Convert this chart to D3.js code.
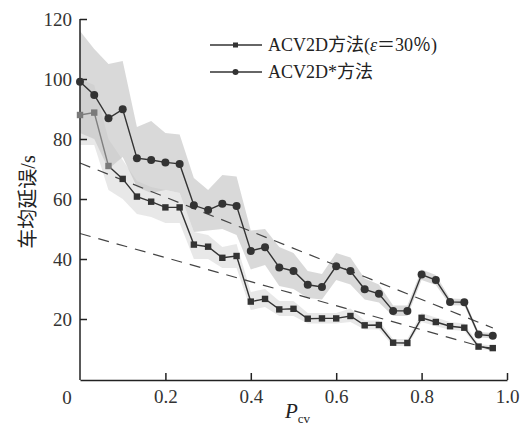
<!DOCTYPE html>
<html lang="zh">
<head>
  <meta charset="UTF-8">
  <title>车均延误</title>
  <script src="https://d3js.org/d3.v7.min.js"></script>
  <style>
    body { margin: 0; background: #fff; }
    text { font-family: "Liberation Serif", "Noto Sans CJK SC", serif; fill: #222; }
    .axis path, .axis line { stroke: #222; stroke-width: 1.5; }
    .axis text { font-size: 19px; font-family: "Liberation Serif", serif; fill: #333; }
  </style>
</head>
<body>
  <script>
    // P_cv 取值 0, 1/30, ..., 29/30
    const pcv = d3.range(30).map(k => k / 30);

    // ACV2D* 方法
    const starMean  = [99.1, 94.7, 86.9, 89.9, 73.6, 73.0, 72.2, 71.7, 57.9, 56.3,
                       58.4, 57.7, 42.7, 43.9, 37.2, 36.0, 31.4, 30.7, 37.6, 36.0,
                       29.9, 28.4, 22.7, 22.7, 34.8, 33.0, 25.7, 25.6, 14.8, 14.4];
    const starUpper = [116, 110, 105, 106, 84, 86, 82, 81.5, 67, 63,
                       68, 67.5, 49.5, 50, 44, 42, 36, 35, 42, 40.5,
                       33.5, 31.5, 24.5, 24.5, 36.5, 34.7, 26.8, 26.7, 15.7, 15.3];
    const starLower = [82, 80, 70, 74, 64, 62, 63, 62, 49, 49.5,
                       50, 48, 36.5, 38, 31, 30, 27, 26.5, 33, 31.5,
                       26.5, 25.5, 21, 21, 33, 31.3, 24.6, 24.5, 13.9, 13.5];

    // ACV2D 方法 (ε=30%)
    const epsMean  = [88.0, 88.8, 71.0, 66.7, 60.8, 59.1, 57.2, 57.2, 44.8, 44.1,
                      40.4, 41.0, 25.8, 26.7, 23.2, 23.4, 20.1, 20.2, 20.2, 21.0,
                      17.9, 18.0, 12.1, 12.0, 20.4, 19.0, 17.6, 17.1, 10.8, 10.3];
    const epsUpper = [100, 98, 80, 73, 66, 64, 63, 62, 49, 48,
                      44, 45, 29, 30, 26, 26, 22, 22, 22, 23.5,
                      19.5, 19.5, 13.3, 13.3, 22, 20.5, 19, 18.5, 11.7, 11.2];
    const epsLower = [78, 78, 63, 60, 55, 54, 52, 52, 40, 40,
                      37, 37, 23, 24, 21, 21, 18.5, 18.5, 18.5, 19,
                      16.5, 16.5, 11, 11, 19, 17.6, 16.4, 16, 10, 9.5];

    // 虚线趋势
    const trendX = [0, 0.967];
    const trendStar = [72, 17];
    const trendEps = [48.5, 9.7];

    const yTicks = [20, 40, 60, 80, 100, 120];
    const xTicks = [0.2, 0.4, 0.6, 0.8, 1.0];

    const W = 529, H = 441;
    const x = d3.scaleLinear().domain([0, 1]).range([80, 507]);
    const y = d3.scaleLinear().domain([0, 120]).range([379, 19]);

    const svg = d3.select("body").append("svg")
      .attr("width", W).attr("height", H);

    // 置信带
    const band = (up, lo) => d3.area()
      .x((d, i) => x(pcv[i]))
      .y0((d, i) => y(lo[i]))
      .y1((d, i) => y(up[i]))(pcv);

    svg.append("path").attr("d", band(epsUpper, epsLower))
      .attr("fill", "#d8d8d8").attr("opacity", 0.6);
    svg.append("path").attr("d", band(starUpper, starLower))
      .attr("fill", "#c4c4c4").attr("opacity", 0.65);

    // 趋势虚线
    [trendStar, trendEps].forEach(t => {
      svg.append("line")
        .attr("x1", x(trendX[0])).attr("y1", y(t[0]))
        .attr("x2", x(trendX[1])).attr("y2", y(t[1]))
        .attr("stroke", "#444").attr("stroke-width", 1.2)
        .attr("stroke-dasharray", "11,8");
    });

    // 坐标轴
    svg.append("g").attr("class", "axis")
      .attr("transform", "translate(80,0)")
      .call(d3.axisLeft(y).tickValues(yTicks).tickSizeInner(-7).tickSizeOuter(0).tickPadding(8))
      .call(g => g.select(".domain").attr("d", "M0," + y(120) + "V380"));

    svg.append("g").attr("class", "axis")
      .attr("transform", "translate(0,380)")
      .call(d3.axisBottom(x).tickValues(xTicks).tickFormat(d3.format(".1f"))
        .tickSizeInner(-7).tickSizeOuter(0).tickPadding(10));

    svg.append("text").attr("x", 67).attr("y", 404)
      .attr("text-anchor", "middle").style("font-size", "19px").style("fill", "#333")
      .text("0");

    // 折线
    const line = d3.line().x(d => x(d[0])).y(d => y(d[1]));
    const epsPts = pcv.map((p, i) => [p, epsMean[i]]);
    const starPts = pcv.map((p, i) => [p, starMean[i]]);

    svg.append("path").attr("d", line(epsPts.slice(0, 3)))
      .attr("fill", "none").attr("stroke", "#808080").attr("stroke-width", 1.4);
    svg.append("path").attr("d", line(epsPts.slice(2)))
      .attr("fill", "none").attr("stroke", "#333").attr("stroke-width", 1.4);
    svg.append("path").attr("d", line(starPts))
      .attr("fill", "none").attr("stroke", "#333").attr("stroke-width", 1.4);

    svg.selectAll(".sq").data(epsPts).enter().append("rect")
      .attr("x", d => x(d[0]) - 3.2).attr("y", d => y(d[1]) - 3.2)
      .attr("width", 6.4).attr("height", 6.4)
      .attr("fill", (d, i) => i < 3 ? "#7a7a7a" : "#333");

    svg.selectAll(".ci").data(starPts).enter().append("circle")
      .attr("cx", d => x(d[0])).attr("cy", d => y(d[1]))
      .attr("r", 4).attr("fill", "#333");

    // 图例
    const lg = svg.append("g");
    [45, 72].forEach((ly, i) => {
      lg.append("line").attr("x1", 210).attr("x2", 262).attr("y1", ly).attr("y2", ly)
        .attr("stroke", "#333").attr("stroke-width", 1.4);
      if (i === 0) {
        lg.append("rect").attr("x", 233).attr("y", ly - 2.5).attr("width", 5).attr("height", 5).attr("fill", "#333");
      } else {
        lg.append("circle").attr("cx", 235.5).attr("cy", ly).attr("r", 3).attr("fill", "#333");
      }
    });
    const t1 = lg.append("text").attr("x", 268).attr("y", 51).style("font-size", "18px");
    t1.append("tspan").text("ACV2D方法(");
    t1.append("tspan").style("font-style", "italic").text("ε");
    t1.append("tspan").text("＝30％)");
    lg.append("text").attr("x", 268).attr("y", 78).style("font-size", "18px").text("ACV2D*方法");

    // 轴标题
    svg.append("text")
      .attr("transform", "translate(35,202) rotate(-90)")
      .attr("text-anchor", "middle").style("font-size", "20px")
      .text("车均延误/s");

    const xl = svg.append("text").attr("x", 285).attr("y", 418).style("font-size", "21px");
    xl.append("tspan").style("font-style", "italic").text("P");
    xl.append("tspan").attr("dy", 5).style("font-size", "13px").text("cv");
  </script>
</body>
</html>
